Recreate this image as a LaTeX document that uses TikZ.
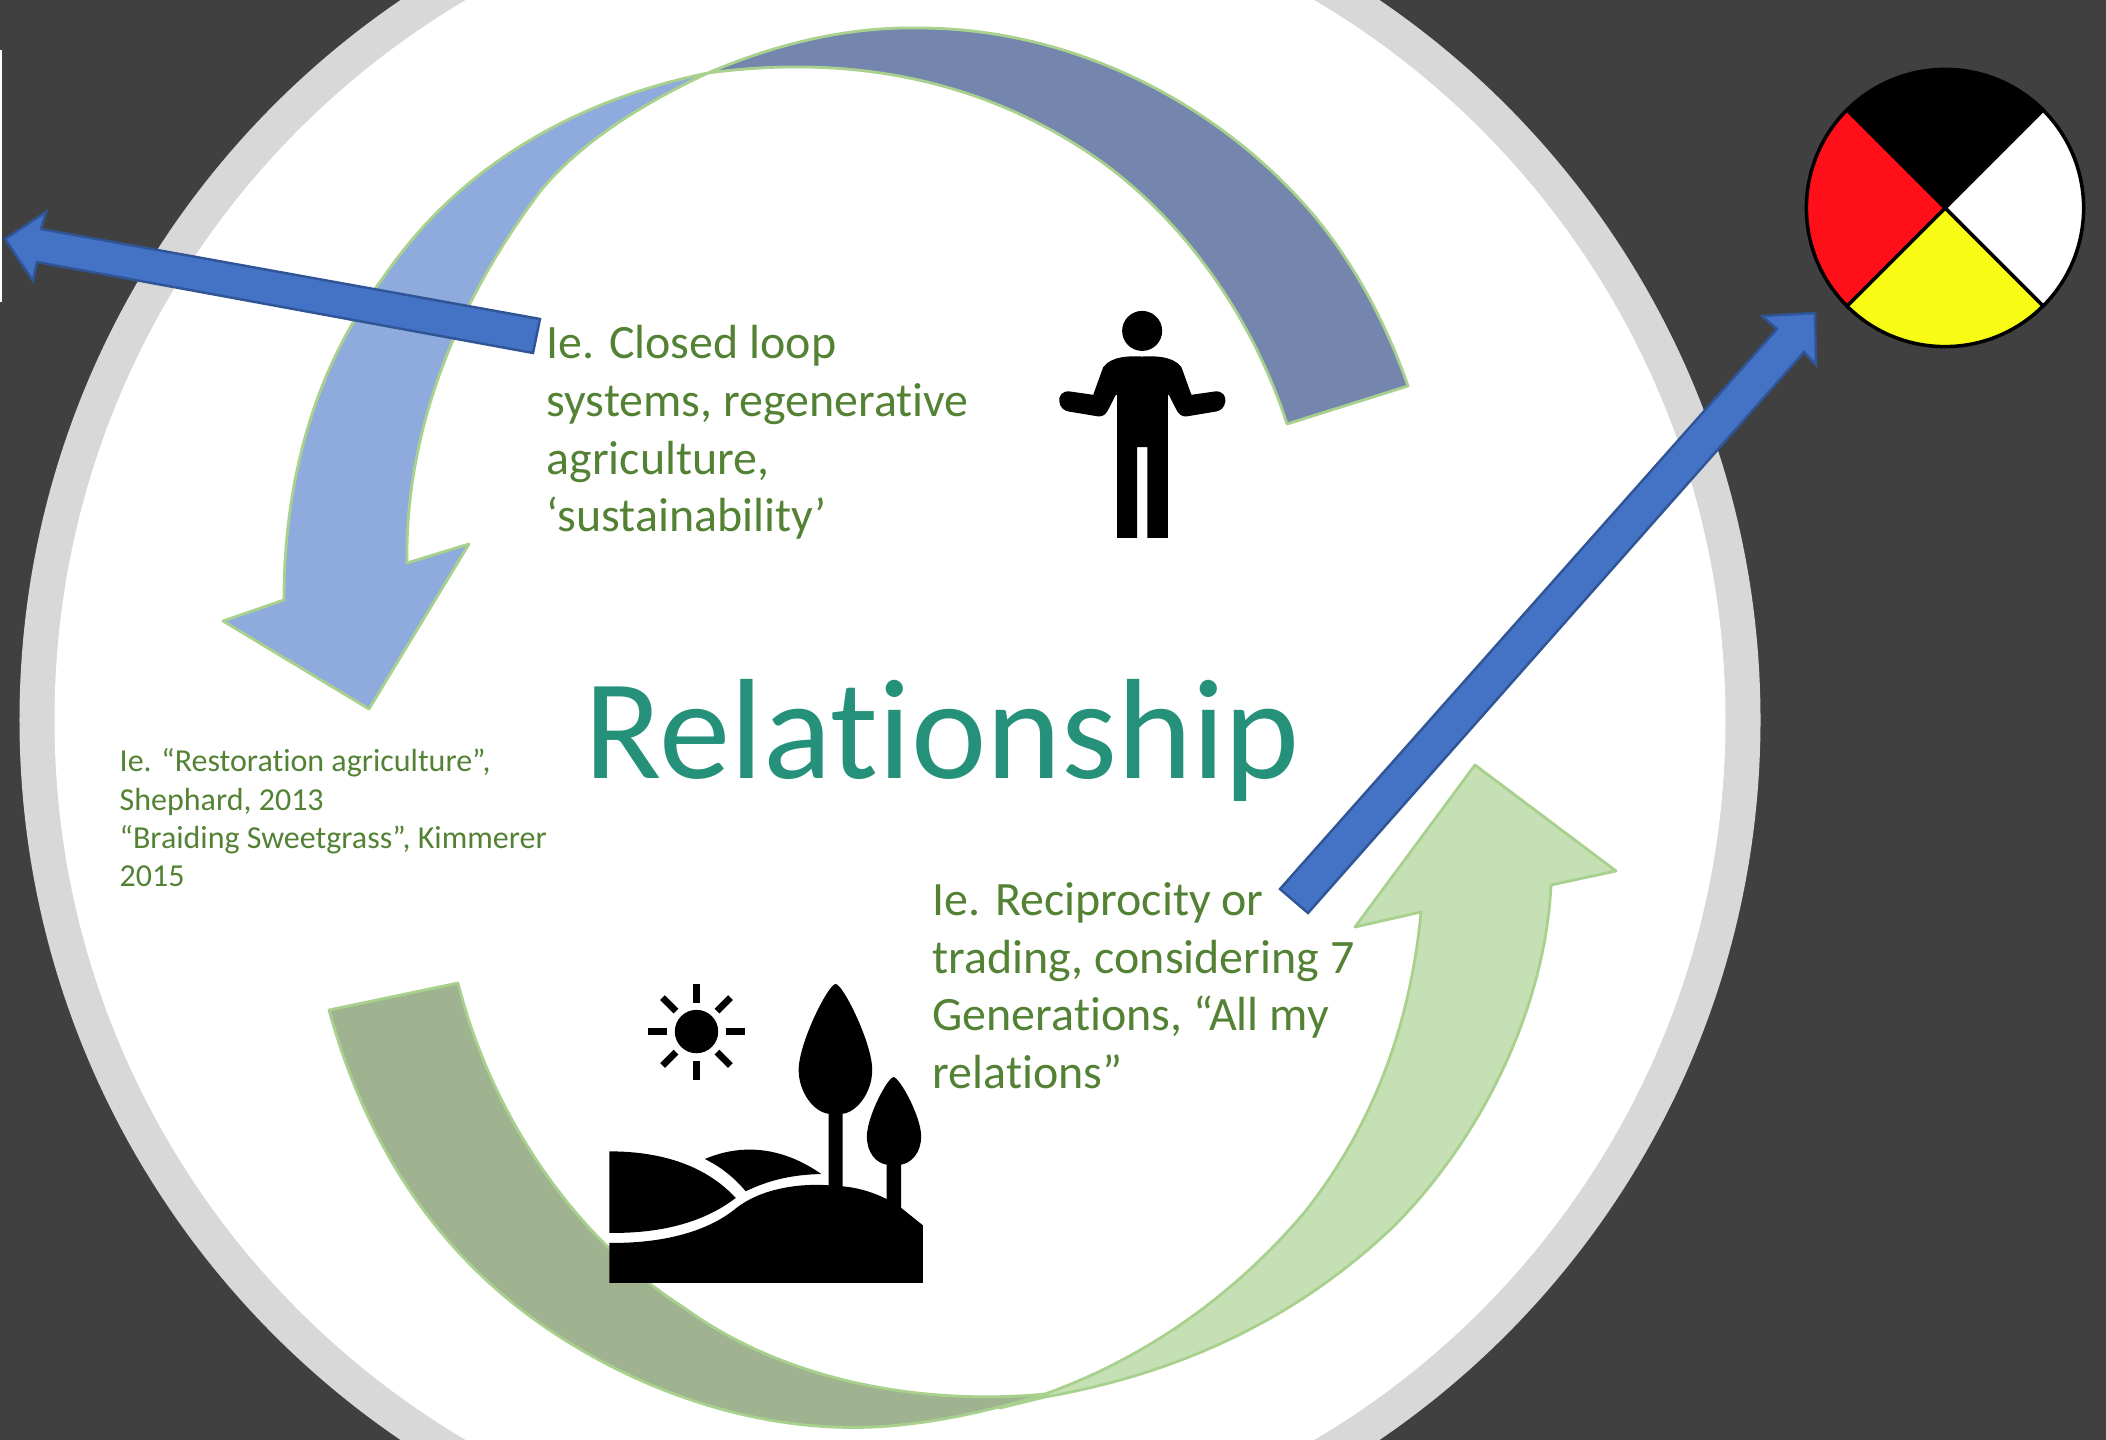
\documentclass[tikz,border=0pt]{standalone}
\usepackage{fontspec}
\setmainfont{Carlito}[Ligatures=NoCommon]

\definecolor{slate}{HTML}{404040}
\definecolor{ringgray}{HTML}{D8D8D8}
\definecolor{palegreen}{HTML}{C5E0B4}
\definecolor{mossgreen}{HTML}{9FB391}
\definecolor{edgegreen}{HTML}{A9D18E}
\definecolor{paleblue}{HTML}{8FAADC}
\definecolor{duskblue}{HTML}{7486AE}
\definecolor{arrowblue}{HTML}{4472C4}
\definecolor{arrowedge}{HTML}{2F5597}
\definecolor{textgreen}{HTML}{548235}
\definecolor{titlegreen}{HTML}{26917A}
\definecolor{wheelred}{HTML}{FF0F1A}
\definecolor{wheelyellow}{HTML}{F8FB14}

\tikzset{
    bandedge/.style={draw=edgegreen,line width=0.8pt,line join=round},
    blockarrow/.style={fill=arrowblue,draw=arrowedge,line width=0.7pt,line join=miter},
    quadrant/.style={draw=black,line width=1pt},
    bodytext/.style={text=textgreen,inner sep=0pt,align=left,anchor=north west,
        font=\fontsize{13.63}{16.36}\selectfont},
    smalltext/.style={text=textgreen,inner sep=0pt,align=left,anchor=north west,
        font=\fontsize{9.1}{10.9}\selectfont},
    titletext/.style={text=titlegreen,inner sep=0pt,anchor=base west,
        font=\fontsize{40.6}{48}\selectfont}
}

\begin{document}
\begin{tikzpicture}[x=0.01cm,y=-0.01cm]
    \useasboundingbox (0,0) rectangle (2106,1440);

    % Background
    \fill [slate] (0,0) rectangle (2106,1440);
    \fill [white] (0,50) rectangle (2,302);
    \fill [ringgray] (890,720) circle [radius=8.7cm];
    \fill [white] (890,720) circle [radius=8.35cm];

    % Light green arrow
    \filldraw [bandedge,fill=palegreen] (1000,1408) -- (1045,1397)
        .. controls (1170,1375) and (1290,1325) .. (1393,1227)
        .. controls (1480,1140) and (1545,1010) .. (1551,885)
        -- (1616,871) -- (1475,765) -- (1355,927) -- (1421,912)
        .. controls (1410,1030) and (1370,1130) .. (1304,1213)
        .. controls (1230,1300) and (1140,1360) .. (1045,1394) -- cycle;

    % Dark green band
    \filldraw [bandedge,fill=mossgreen] (329,1010)
        .. controls (365,1140) and (430,1240) .. (523,1311)
        .. controls (620,1385) and (760,1440) .. (900,1425)
        .. controls (950,1420) and (1000,1408) .. (1045,1394)
        .. controls (930,1405) and (790,1385) .. (683,1307)
        .. controls (570,1235) and (490,1110) .. (458,983) -- cycle;

    % Light blue arrow
    \filldraw [bandedge,fill=paleblue] (708,73)
        .. controls (600,95) and (470,150) .. (383,278)
        .. controls (320,360) and (284,470) .. (284,600)
        -- (223,621) -- (369,709) -- (469,544) -- (407,563)
        .. controls (405,440) and (450,310) .. (542,189)
        .. controls (585,138) and (650,100) .. (708,73) -- cycle;

    % Dark blue band
    \filldraw [bandedge,fill=duskblue] (708,73)
        .. controls (790,38) and (860,27) .. (918,28)
        .. controls (1070,28) and (1210,100) .. (1303,203)
        .. controls (1350,255) and (1385,320) .. (1408,386)
        -- (1287,424)
        .. controls (1250,310) and (1180,220) .. (1106,165)
        .. controls (1010,95) and (880,50) .. (708,73) -- cycle;

    % Blue arrows
    \draw [blockarrow] (540,319) -- (533,353) -- (37,262) -- (33,281) -- (5,239)
        -- (46,212) -- (41,229) -- cycle;
    \draw [blockarrow] (1280,889) -- (1308,913) -- (1804,352) -- (1816,365) -- (1815,313)
        -- (1762,316) -- (1777,329) -- cycle;

    % Wheel
    \filldraw [quadrant,fill=black] (1945,208) -- ++(-98,-98)
        arc [start angle=135,end angle=45,radius=1.386cm] -- cycle;
    \filldraw [quadrant,fill=white] (1945,208) -- ++(98,-98)
        arc [start angle=45,end angle=-45,radius=1.386cm] -- cycle;
    \filldraw [quadrant,fill=wheelyellow] (1945,208) -- ++(98,98)
        arc [start angle=-45,end angle=-135,radius=1.386cm] -- cycle;
    \filldraw [quadrant,fill=wheelred] (1945,208) -- ++(-98,98)
        arc [start angle=-135,end angle=-225,radius=1.386cm] -- cycle;

    % Person
    \begin{scope}[shift={(1020,280)},x=0.00333cm,y=-0.00333cm]
        \fill [black] (367,153) circle [radius=0.2cm];
        \fill [black] (367,230) .. controls (330,228) and (275,228) .. (250,262)
            -- (220,345) -- (150,335)
            .. controls (125,332) and (116,350) .. (118,365)
            .. controls (120,385) and (135,393) .. (145,395)
            -- (235,410) .. controls (250,412) and (260,400) .. (265,390)
            -- (288,345) -- (292,345) -- (292,775) -- (352,775) -- (352,502)
            -- (383,502) -- (383,775) -- (444,775) -- (444,345) -- (447,345)
            -- (470,390) .. controls (475,400) and (485,412) .. (500,410)
            -- (590,395) .. controls (600,393) and (615,385) .. (617,365)
            .. controls (619,350) and (610,332) .. (585,335)
            -- (515,345) -- (485,262)
            .. controls (460,228) and (405,228) .. (367,230) -- cycle;
    \end{scope}

    % Landscape
    \begin{scope}[shift={(590,960)},x=0.00333cm,y=-0.00333cm]
        \fill [black] (320,215) circle [radius=0.217cm];
        \foreach \ang in {0,45,...,315}
            \draw [black,line width=1.9pt] (320,215) ++(\ang:0.29cm) -- ++(\ang:0.19cm);
        % Tall tree
        \fill [black] (738,72) .. controls (760,72) and (848,250) .. (848,330)
            .. controls (848,400) and (800,458) .. (759,462) -- (759,690) -- (717,690) -- (717,462)
            .. controls (675,458) and (627,400) .. (627,330)
            .. controls (627,250) and (716,72) .. (738,72) -- cycle;
        % Small tree
        \fill [black] (912,352) .. controls (930,352) and (995,470) .. (995,530)
            .. controls (995,580) and (965,610) .. (935,615) -- (935,750) -- (891,750) -- (891,615)
            .. controls (860,610) and (832,580) .. (832,530)
            .. controls (832,470) and (895,352) .. (912,352) -- cycle;
        % Hills
        \fill [black] (345,598) .. controls (470,545) and (590,570) .. (695,643)
            .. controls (610,645) and (540,660) .. (468,695)
            .. controls (430,650) and (390,620) .. (345,598) -- cycle;
        \fill [black] (58,575) .. controls (220,575) and (350,620) .. (438,715)
            .. controls (340,790) and (210,822) .. (58,820) -- cycle;
        \fill [black] (58,850) .. controls (210,852) and (350,820) .. (440,745)
            .. controls (510,690) and (620,670) .. (717,677) -- (759,680)
            .. controls (810,685) and (850,698) .. (891,718) -- (935,745)
            -- (1000,797) -- (1000,970) -- (58,970) -- cycle;
    \end{scope}

    % Labels
    \node [titletext] (relationship) at (584,778) {Relationship};
    \node [bodytext] (closedloop) at (546,325)
        {Ie. Closed loop\\systems, regenerative\\agriculture,\\‘sustainability’};
    \node [bodytext] (reciprocity) at (932,882)
        {Ie. Reciprocity or\\trading, considering 7\\Generations, “All my\\relations”};
    \node [smalltext] (restoration) at (119,748)
        {Ie. “Restoration agriculture”,\\Shephard, 2013\\“Braiding Sweetgrass”, Kimmerer\\2015};
\end{tikzpicture}
\end{document}
